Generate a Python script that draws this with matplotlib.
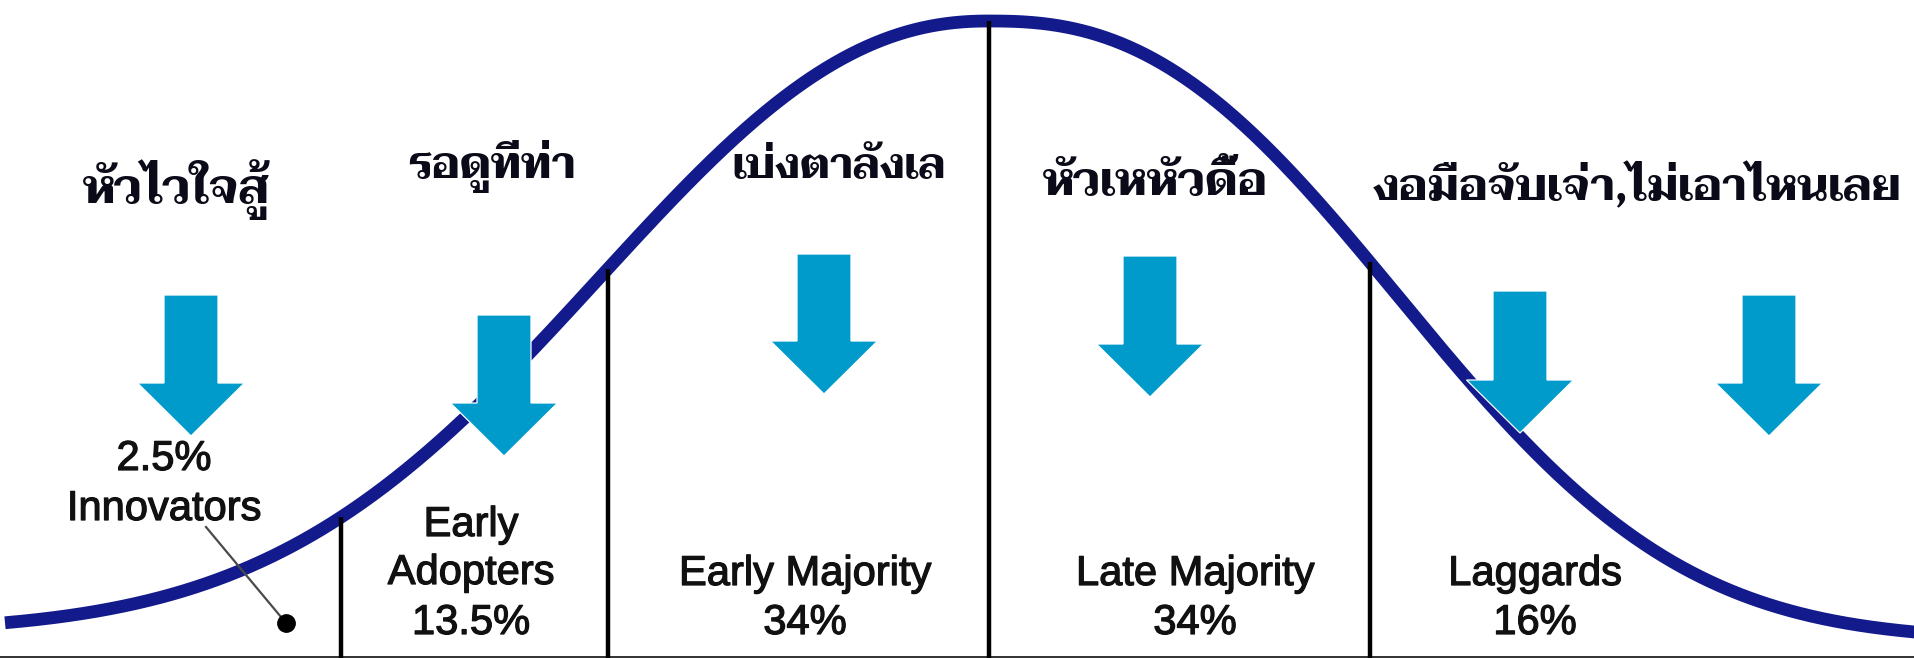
import matplotlib
matplotlib.use("Agg")
import matplotlib.pyplot as plt
from matplotlib import font_manager
from matplotlib import patheffects as pe
import numpy as np

# ---------------- data ----------------
segments = ["Innovators", "Early Adopters", "Early Majority", "Late Majority", "Laggards"]
shares = [2.5, 13.5, 34, 34, 16]
thai_labels = ["หัวไวใจสู้", "รอดูทีท่า", "เบ่งตาลังเล", "หัวเหหัวดื้อ", "งอมือจับเจ่า,ไม่เอาไหนเลย"]
boundaries_sd = [-1.7, -1.0, 0.0, 1.0]   # segment boundaries, in standard deviations

# ---------------- layout (pixels) ----------------
W, H, DPI = 1915, 658, 100
MU_PX, SD_PX = 989, 381
PEAK_Y = 21
LEFT_SHAPE = dict(base=632, scale=513, power=2.2)
RIGHT_SHAPE = dict(base=640, scale=508, power=2.45)
CURVE_COLOR = "#121a8c"
ARROW_COLOR = "#019bcb"
TEXT_COLOR = "#111111"
THAI_COLOR = "#0a0a18"


def pick_thai_family():
    names = {f.name for f in font_manager.fontManager.ttflist}
    for cand in ["Kinnari", "Norasi", "Taviraj", "Trirong", "Noto Serif Thai",
                 "Noto Sans Thai", "Loma"]:
        if cand in names:
            return cand
    return "DejaVu Sans"


thai_family = pick_thai_family()


def curve_y(xpx):
    xpx = np.asarray(xpx, dtype=float)
    dx = xpx - MU_PX
    out = np.empty_like(xpx)
    for shape, mask in ((LEFT_SHAPE, dx < 0), (RIGHT_SHAPE, dx >= 0)):
        r = np.exp(-(np.abs(dx[mask]) / shape["scale"]) ** shape["power"])
        out[mask] = shape["base"] - (shape["base"] - PEAK_Y) * r
    return out


fig = plt.figure(figsize=(W / DPI, H / DPI), dpi=DPI)
ax = fig.add_axes([0, 0, 1, 1])
ax.set_xlim(0, W)
ax.set_ylim(H, 0)
ax.axis("off")

# bottom rule
ax.plot([0, W], [656.5, 656.5], color="#222222", lw=1.3, zorder=1)

# bell curve
xs = np.linspace(5, W, 1200)
ax.plot(xs, curve_y(xs), color=CURVE_COLOR, lw=9.2, solid_capstyle="butt", zorder=2)

# segment boundaries
for b in boundaries_sd:
    xb = MU_PX + SD_PX * b
    ax.plot([xb, xb], [H, float(curve_y([xb])[0])], color="black", lw=3.2,
            solid_capstyle="butt", zorder=3)

# arrows (tip x, top y, tip y)
arrows = [(191, 295, 436), (504, 315, 456), (824, 254, 394),
          (1150, 256, 397), (1520, 291, 433), (1769, 295, 436)]
for tx, ty0, ty1 in arrows:
    ax.arrow(tx, ty0, 0, ty1 - ty0, width=54, head_width=107, head_length=53,
             length_includes_head=True, facecolor=ARROW_COLOR, edgecolor="white",
             lw=0.9, zorder=5)

# innovators leader line + dot
ax.plot([206, 286], [527, 623], color="#4a4a4a", lw=1.6, zorder=4)
ax.plot([286], [623], "o", color="black", ms=12.5, zorder=4)

# English labels
fx = [pe.withStroke(linewidth=0.9, foreground=TEXT_COLOR)]
eng = dict(family="Liberation Sans", fontsize=30, color=TEXT_COLOR, ha="center",
           va="baseline", zorder=6, path_effects=fx)


def pct(v):
    return f"{v:g}%"


ax.text(164, 470, pct(shares[0]), **eng)
ax.text(164, 520, segments[0], **eng)
first, second = segments[1].split(" ")
ax.text(471, 536, first, **eng)
ax.text(471, 584, second, **eng)
ax.text(471, 634, pct(shares[1]), **eng)
for (cx, name, val) in [(805, segments[2], shares[2]), (1195, segments[3], shares[3]),
                        (1535, segments[4], shares[4])]:
    ax.text(cx, 585, name, **eng)
    ax.text(cx, 634, pct(val), **eng)

# Thai headings (center x, baseline y, target width)
thai_layout = [(176, 203, 187), (492, 178, 168), (839, 178, 214), (1155, 195, 225), (1637, 200, 529)]
renderer = fig.canvas.get_renderer()
for label, (cx, by, tw) in zip(thai_labels, thai_layout):
    t = ax.text(cx, by, label, family=[thai_family, "DejaVu Sans"], fontweight="bold",
                fontsize=36, color=THAI_COLOR, ha="center", va="baseline", zorder=6)
    w = t.get_window_extent(renderer).width
    if w > 0:
        t.set_fontsize(36 * tw / w)

fig.savefig("out.png", dpi=DPI)
